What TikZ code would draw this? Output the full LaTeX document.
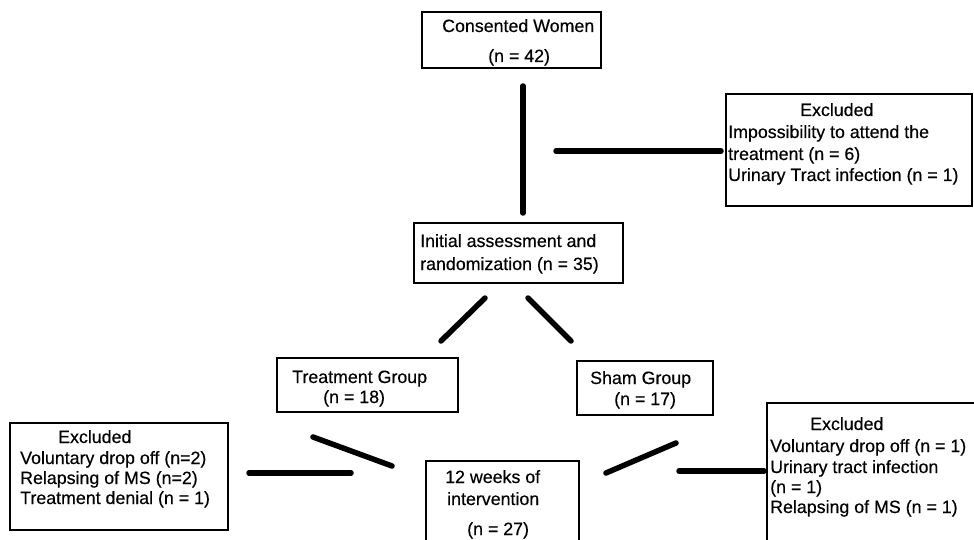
\documentclass[tikz,border=0pt]{standalone}
\usepackage{fontspec}
\setmainfont[FakeBold=0.4]{Liberation Sans}
\begin{document}
\begin{tikzpicture}[x=1pt,y=-1pt,
  box/.style={draw=black,line width=1.7pt},
  txt/.style={anchor=base west,inner sep=0pt,font=\fontsize{17.8}{20}\selectfont},
  conn/.style={line width=5.5pt,line cap=round}]
\useasboundingbox (0,0) rectangle (974,540);
\clip (0,0) rectangle (974,540);
% boxes
\draw[box] (422,12) rectangle (601,68);
\node[txt] (t1a) at (442,32) {Consented Women};
\node[txt] (t1b) at (488,62) {(n = 42)};

\draw[box] (726,94) rectangle (972,206);
\node[txt] (e1a) at (800,116) {Excluded};
\node[txt] (e1b) at (728,138) {Impossibility to attend the};
\node[txt] (e1c) at (728,160) {treatment (n = 6)};
\node[txt] (e1d) at (728,181) {Urinary Tract infection (n = 1)};

\draw[box] (414,223) rectangle (623,283);
\node[txt] (t2a) at (420,247) {Initial assessment and};
\node[txt] (t2b) at (420,270) {randomization (n = 35)};

\draw[box] (277,358) rectangle (458,412);
\node[txt] (t3a) at (292,383) {Treatment Group};
\node[txt] (t3b) at (323,403) {(n = 18)};

\draw[box] (577,361) rectangle (713,415);
\node[txt] (t4a) at (590,384) {Sham Group};
\node[txt] (t4b) at (614,405) {(n = 17)};

\draw[box] (426,461) rectangle (579,560);
\node[txt] (t5a) at (445,483) {12 weeks of};
\node[txt] (t5b) at (447,505) {intervention};
\node[txt] (t5c) at (467,535) {(n = 27)};

\draw[box] (10,423) rectangle (228,530);
\node[txt] (e2a) at (58,443) {Excluded};
\node[txt] (e2b) at (20,464) {Voluntary drop off (n=2)};
\node[txt] (e2c) at (20,484) {Relapsing of MS (n=2)};
\node[txt] (e2d) at (20,504) {Treatment denial (n = 1)};

\draw[box] (767,403) rectangle (990,560);
\node[txt] (e3a) at (810,430) {Excluded};
\node[txt] (e3b) at (770,452) {Voluntary drop off (n = 1)};
\node[txt] (e3c) at (770,473) {Urinary tract infection};
\node[txt] (e3d) at (770,493) {(n = 1)};
\node[txt] (e3e) at (770,513) {Relapsing of MS (n = 1)};

% connector end points
\coordinate (v1) at (523,86);
\coordinate (v2) at (523,213);
\coordinate (h1a) at (556,151);
\coordinate (h1b) at (721,151);
\coordinate (d1a) at (485,298);
\coordinate (d1b) at (441,341);
\coordinate (d2a) at (528,298);
\coordinate (d2b) at (571,341);
\coordinate (d3a) at (313,437);
\coordinate (d3b) at (392,466);
\coordinate (d4a) at (676,443);
\coordinate (d4b) at (606,473);
\coordinate (h2a) at (249,473);
\coordinate (h2b) at (351,473);
\coordinate (h3a) at (679,471);
\coordinate (h3b) at (764,471);

\draw[conn] (v1) -- (v2);
\draw[conn] (h1a) -- (h1b);
\draw[conn] (d1a) -- (d1b);
\draw[conn] (d2a) -- (d2b);
\draw[conn] (d3a) -- (d3b);
\draw[conn] (d4a) -- (d4b);
\draw[conn] (h2a) -- (h2b);
\draw[conn] (h3a) -- (h3b);
\end{tikzpicture}
\end{document}
